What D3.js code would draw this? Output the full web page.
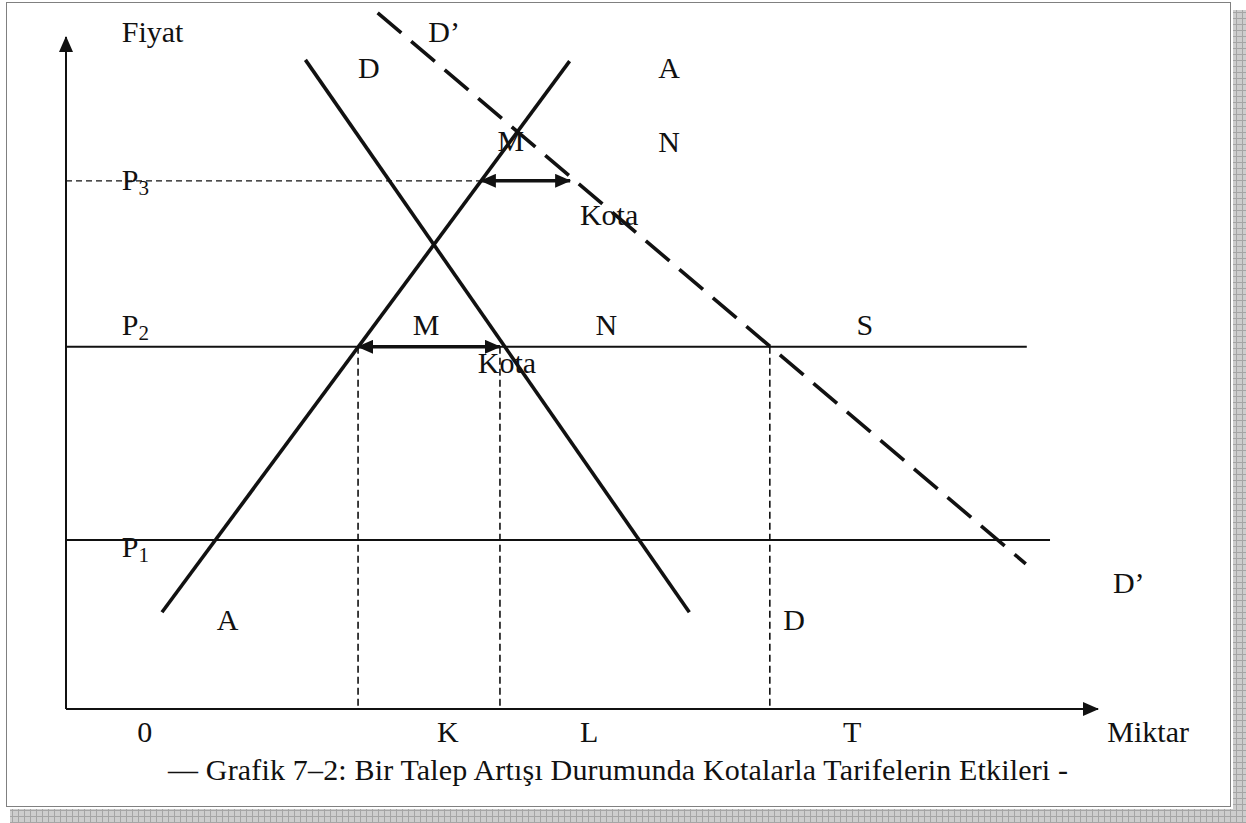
<!DOCTYPE html>
<html>
<head>
<meta charset="utf-8">
<script src="https://cdn.jsdelivr.net/npm/d3@7"></script>
<style>
  body { margin: 0; background: #fff; }
</style>
</head>
<body>
<div id="chart"></div>
<script>
// quantity (x) and price (y) are in abstract units 0..100
const supplyA = [[9.3, 14.4], [48.8, 96.4]];
const demandD = [[23.2, 96.6], [60.4, 14.4]];
const demandD2 = [[30.2, 103.6], [93.0, 21.6]];

const prices = [
  { name: "P3", p: 78.6, to: 40.2, dashed: true },
  { name: "P2", p: 53.9, to: 93.1, dashed: false },
  { name: "P1", p: 25.15, to: 95.35, dashed: false }
];

// dropped lines from P2 to the quantity axis
const dropQ = [28.3, 42.05, 68.2];
const dropFrom = 53.9;

// quota arrows [q0, q1, p]
const quotas = [[40.2, 48.85, 78.6], [28.3, 42.05, 53.9]];

const labels = [
  { t: "Fiyat", q: 5.4, p: 99.3 },
  { t: "D’", q: 35.1, p: 99.3 },
  { t: "D", q: 28.3, p: 93.9 },
  { t: "A", q: 57.4, p: 93.9 },
  { t: "M", q: 41.8, p: 83.0 },
  { t: "N", q: 57.4, p: 82.9 },
  { t: "P", sub: "3", q: 5.4, p: 77.2 },
  { t: "Kota", q: 49.8, p: 72.0 },
  { t: "P", sub: "2", q: 5.4, p: 55.65 },
  { t: "M", q: 33.6, p: 55.65 },
  { t: "N", q: 51.3, p: 55.65 },
  { t: "S", q: 76.6, p: 55.65 },
  { t: "Kota", q: 39.9, p: 50.0 },
  { t: "P", sub: "1", q: 5.4, p: 22.6 },
  { t: "A", q: 14.6, p: 11.8 },
  { t: "D", q: 69.5, p: 11.8 },
  { t: "D’", q: 101.45, p: 17.3 }
];

const axisLabels = [
  { t: "0", q: 6.9 }, { t: "K", q: 35.95 }, { t: "L", q: 49.8 },
  { t: "T", q: 75.3 }, { t: "Miktar", q: 100.9 }
];

const caption = "— Grafik 7–2: Bir Talep Artışı Durumunda Kotalarla Tarifelerin Etkileri -";

const width = 1246, height = 823;
const serif = "'Liberation Serif', 'Times New Roman', Times, serif";

const x = d3.scaleLinear().domain([0, 100]).range([66, 1098]);
const y = d3.scaleLinear().domain([0, 100]).range([709, 37]);

const svg = d3.select("#chart").append("svg")
    .attr("width", width)
    .attr("height", height);

const defs = svg.append("defs");

const pat = defs.append("pattern")
    .attr("id", "shade")
    .attr("width", 6).attr("height", 6)
    .attr("patternUnits", "userSpaceOnUse");
pat.append("rect").attr("width", 6).attr("height", 6).attr("fill", "#cdcdcd");
pat.append("path").attr("d", "M0,0.5H6M0.5,0V6").attr("stroke", "#a5a5a5").attr("stroke-width", 1);

defs.append("marker")
    .attr("id", "head")
    .attr("viewBox", "0 0 16 14")
    .attr("refX", 15).attr("refY", 7)
    .attr("markerWidth", 16).attr("markerHeight", 14)
    .attr("markerUnits", "userSpaceOnUse")
    .attr("orient", "auto-start-reverse")
  .append("path")
    .attr("d", "M0,0L16,7L0,14Z")
    .attr("fill", "#111");

// shadow and dotted frame
svg.append("rect").attr("x", 1233).attr("y", 10).attr("width", 13).attr("height", 813).attr("fill", "url(#shade)");
svg.append("rect").attr("x", 10).attr("y", 809).attr("width", 1236).attr("height", 14).attr("fill", "url(#shade)");
svg.append("rect")
    .attr("x", 6.5).attr("y", 2.5).attr("width", 1224).attr("height", 804)
    .attr("fill", "#fff")
    .attr("stroke", "#000").attr("stroke-width", 1).attr("stroke-dasharray", "1,1");

const line = d3.line().x(d => x(d[0])).y(d => y(d[1]));

// axes
svg.append("line")
    .attr("x1", x(0)).attr("y1", y(0)).attr("x2", x(0)).attr("y2", y(100))
    .attr("stroke", "#111").attr("stroke-width", 2).attr("marker-end", "url(#head)");
svg.append("line")
    .attr("x1", x(0)).attr("y1", y(0)).attr("x2", x(100)).attr("y2", y(0))
    .attr("stroke", "#111").attr("stroke-width", 2).attr("marker-end", "url(#head)");

// price levels
svg.append("g").selectAll("line").data(prices).join("line")
    .attr("x1", x(0)).attr("x2", d => x(d.to))
    .attr("y1", d => y(d.p)).attr("y2", d => y(d.p))
    .attr("stroke", "#111")
    .attr("stroke-width", d => d.dashed ? 1.3 : 2)
    .attr("stroke-dasharray", d => d.dashed ? "6,4" : null);

// drop lines
svg.append("g").selectAll("line").data(dropQ).join("line")
    .attr("x1", d => x(d)).attr("x2", d => x(d))
    .attr("y1", y(dropFrom)).attr("y2", y(0))
    .attr("stroke", "#111").attr("stroke-width", 1.6)
    .attr("stroke-dasharray", "7,4");

// curves
svg.append("path").datum(supplyA).attr("d", line)
    .attr("fill", "none").attr("stroke", "#111").attr("stroke-width", 3.6);
svg.append("path").datum(demandD).attr("d", line)
    .attr("fill", "none").attr("stroke", "#111").attr("stroke-width", 3.6);
svg.append("path").datum(demandD2).attr("d", line)
    .attr("fill", "none").attr("stroke", "#111").attr("stroke-width", 3.6)
    .attr("stroke-dasharray", "31,13");

// quota arrows
svg.append("g").selectAll("line").data(quotas).join("line")
    .attr("x1", d => x(d[0])).attr("x2", d => x(d[1]))
    .attr("y1", d => y(d[2])).attr("y2", d => y(d[2]))
    .attr("stroke", "#111").attr("stroke-width", 3.6)
    .attr("marker-start", "url(#head)").attr("marker-end", "url(#head)");

// labels
const lab = svg.append("g")
    .attr("font-family", serif).attr("font-size", 30).attr("fill", "#111")
  .selectAll("text").data(labels).join("text")
    .attr("x", d => x(d.q)).attr("y", d => y(d.p))
    .text(d => d.t);
lab.filter(d => d.sub).append("tspan")
    .attr("dy", 5).attr("font-size", 21)
    .text(d => d.sub);

svg.append("g")
    .attr("font-family", serif).attr("font-size", 30).attr("fill", "#111")
  .selectAll("text").data(axisLabels).join("text")
    .attr("x", d => x(d.q)).attr("y", 742)
    .text(d => d.t);

svg.append("text")
    .attr("x", 168).attr("y", 780)
    .attr("font-family", serif).attr("font-size", 30).attr("fill", "#111")
    .attr("textLength", 900).attr("lengthAdjust", "spacing")
    .text(caption);
</script>
</body>
</html>
